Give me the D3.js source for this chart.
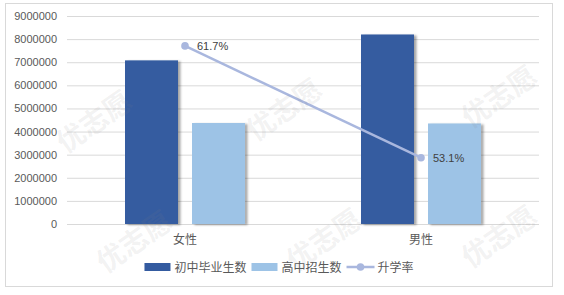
<!DOCTYPE html>
<html>
<head>
<meta charset="utf-8">
<script src="https://cdn.jsdelivr.net/npm/d3@7"></script>
<style>
  html, body { margin: 0; padding: 0; background: #fff; }
  svg { display: block; font-family: "Liberation Sans", "Noto Sans CJK SC", sans-serif; }
  .cjk { font-family: "Noto Sans CJK SC", sans-serif; }
</style>
</head>
<body>
<script>
// chart values
const categories = ["女性", "男性"];
const graduates = [7080000, 8200000];   // 初中毕业生数
const enrolled = [4370000, 4350000];    // 高中招生数
const rates = [0.617, 0.531];           // 升学率
const seriesNames = ["初中毕业生数", "高中招生数", "升学率"];
const yTicks = [0, 1000000, 2000000, 3000000, 4000000, 5000000, 6000000, 7000000, 8000000, 9000000];

const w = 564, h = 295;
const plotL = 67, plotR = 539, plotT = 16, plotB = 224;
const colors = ["#345ba0", "#9dc3e6", "#a9b7de"];

const svg = d3.select("body").append("svg")
  .attr("width", w)
  .attr("height", h);

const defs = svg.append("defs");
defs.append("filter")
  .attr("id", "shadow")
  .attr("x", "-20%").attr("y", "-20%").attr("width", "140%").attr("height", "140%")
  .append("feDropShadow")
  .attr("dx", 2.5).attr("dy", 1)
  .attr("stdDeviation", 1.3)
  .attr("flood-color", "#000")
  .attr("flood-opacity", 0.35);

// outer frame
svg.append("rect")
  .attr("x", 5.5).attr("y", 3.5)
  .attr("width", 547).attr("height", 283)
  .attr("fill", "#fff")
  .attr("stroke", "#d9d9d9");

const x0 = d3.scaleBand()
  .domain(categories)
  .range([plotL, plotR])
  .paddingInner(0.4915)
  .paddingOuter(0.4915 / 2);

const x1 = d3.scaleBand()
  .domain([0, 1])
  .range([0, x0.bandwidth()])
  .paddingInner(0.209);

const y = d3.scaleLinear()
  .domain([0, 9000000])
  .range([plotB, plotT]);

// hidden secondary axis for the rate line
const y2 = d3.scaleLinear()
  .domain([0.48, 0.64])
  .range([plotB, plotT]);

// gridlines + tick labels
const yAxis = d3.axisLeft(y)
  .tickValues(yTicks)
  .tickSize(-(plotR - plotL))
  .tickPadding(10)
  .tickFormat(d3.format("d"));

const gAxis = svg.append("g")
  .attr("transform", "translate(" + plotL + ",0)")
  .call(yAxis);
gAxis.select(".domain").remove();
gAxis.selectAll("line").attr("stroke", "#d9d9d9");
gAxis.selectAll("text")
  .attr("fill", "#595959")
  .attr("font-size", "11px")
  .attr("font-family", "Liberation Sans, sans-serif");

// bars
const barData = [];
categories.forEach((c, i) => {
  barData.push({ cat: c, s: 0, v: graduates[i] });
  barData.push({ cat: c, s: 1, v: enrolled[i] });
});

svg.append("g")
  .selectAll("rect")
  .data(barData)
  .enter()
  .append("rect")
  .attr("x", d => x0(d.cat) + x1(d.s))
  .attr("y", d => y(d.v))
  .attr("width", x1.bandwidth())
  .attr("height", d => plotB - y(d.v))
  .attr("fill", d => colors[d.s])
  .attr("filter", "url(#shadow)");

// category labels
svg.append("g")
  .selectAll("text")
  .data(categories)
  .enter()
  .append("text")
  .attr("class", "cjk")
  .attr("x", d => x0(d) + x0.bandwidth() / 2)
  .attr("y", 244)
  .attr("text-anchor", "middle")
  .attr("font-size", "12px")
  .attr("fill", "#595959")
  .text(d => d);

// rate line
const cx = c => x0(c) + x0.bandwidth() / 2;
const line = d3.line()
  .x((d, i) => cx(categories[i]))
  .y(d => y2(d));

svg.append("path")
  .datum(rates)
  .attr("d", line)
  .attr("fill", "none")
  .attr("stroke", colors[2])
  .attr("stroke-width", 2.5);

svg.append("g")
  .selectAll("circle")
  .data(rates)
  .enter()
  .append("circle")
  .attr("cx", (d, i) => cx(categories[i]))
  .attr("cy", d => y2(d))
  .attr("r", 3.8)
  .attr("fill", colors[2]);

svg.append("g")
  .selectAll("text")
  .data(rates)
  .enter()
  .append("text")
  .attr("x", (d, i) => cx(categories[i]) + 12)
  .attr("y", d => y2(d) + 4)
  .attr("font-size", "11px")
  .attr("fill", "#404040")
  .text(d => d3.format(".1%")(d));

// legend
const legend = svg.append("g");
let lx = 0;
seriesNames.forEach((name, i) => {
  const item = legend.append("g").attr("transform", "translate(" + lx + ",0)");
  if (i < 2) {
    item.append("rect")
      .attr("x", 0).attr("y", 263)
      .attr("width", 26).attr("height", 8)
      .attr("fill", colors[i]);
  } else {
    item.append("line")
      .attr("x1", 0).attr("x2", 28)
      .attr("y1", 267).attr("y2", 267)
      .attr("stroke", colors[2])
      .attr("stroke-width", 2.5);
    item.append("circle")
      .attr("cx", 14).attr("cy", 267).attr("r", 3.8)
      .attr("fill", colors[2]);
  }
  const t = item.append("text")
    .attr("class", "cjk")
    .attr("x", i < 2 ? 30 : 31)
    .attr("y", 271.5)
    .attr("font-size", "12px")
    .attr("fill", "#595959")
    .text(name);
  lx += (i < 2 ? 30 : 31) + t.node().getComputedTextLength() + 5;
});
const lw = lx - 5;
legend.attr("transform", "translate(" + (279 - lw / 2) + ",0)");

// faint watermark
const wm = svg.append("g")
  .attr("fill", "#808080")
  .attr("fill-opacity", 0.11)
  .attr("class", "cjk")
  .attr("font-size", "28px")
  .attr("font-weight", "bold");
[[100, 130], [290, 118], [505, 105], [140, 250], [330, 248], [505, 245]].forEach(p => {
  wm.append("text")
    .attr("transform", "translate(" + p[0] + "," + p[1] + ") rotate(-35)")
    .attr("text-anchor", "middle")
    .text("优志愿");
});
</script>
</body>
</html>
